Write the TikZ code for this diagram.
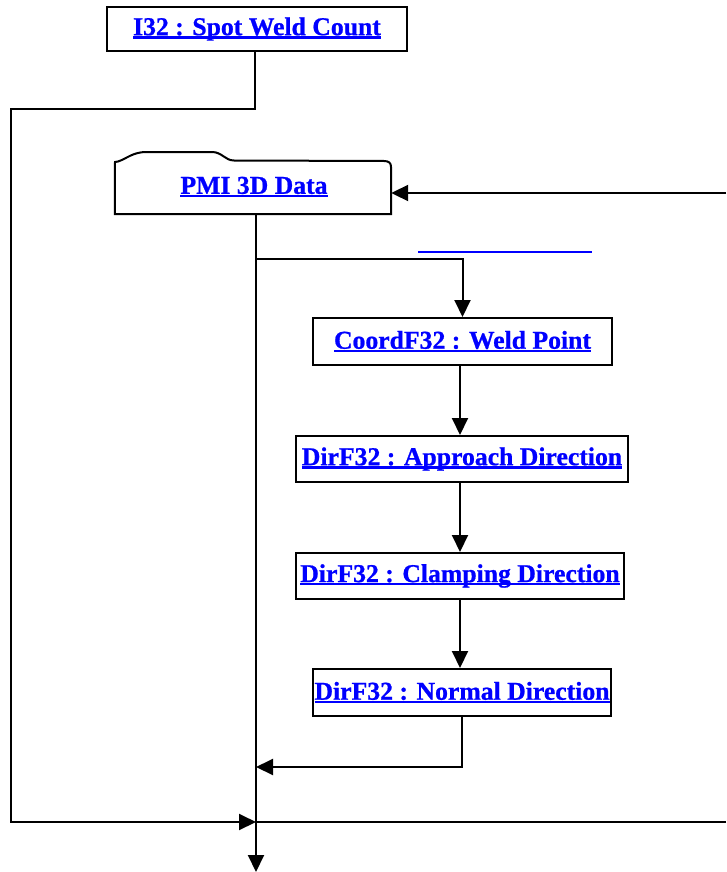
\documentclass[tikz,border=0pt]{standalone}
\usepackage{fontspec}
\setmainfont{Liberation Serif}[BoldFeatures={FakeBold=0.8}]
\usetikzlibrary{arrows.meta}
\definecolor{linkblue}{RGB}{0,0,255}
\newcommand{\lnk}[1]{\raisebox{-3.5pt}{\setbox0\hbox{#1}\rlap{\rule[-3.4pt]{\wd0}{2.2pt}}\box0}}
\tikzset{
  x=1pt,y=-1pt,
  ln/.style={line width=2pt,black},
  arr/.style={ln,-{Triangle[length=17pt,width=16pt]}},
  boxn/.style={draw,line width=2pt,fill=white,inner sep=0pt,font=\fontsize{25.7}{30}\selectfont\bfseries,text=linkblue},
  plainn/.style={inner sep=0pt,font=\fontsize{25.7}{30}\selectfont\bfseries,text=linkblue}
}
\begin{document}
\begin{tikzpicture}
\useasboundingbox[fill=white] (0,0) rectangle (726,872);
% nodes
\node[boxn,minimum width=300pt,minimum height=44pt] (i32) at (257,29) {\lnk{I32 : Spot Weld Count}};
\node[plainn,minimum width=276pt,minimum height=53pt] (pmi) at (253,187.5) {};
\draw[line width=2pt,fill=white] (pmi.south west) -- (115,162) -- (118,161.5)
  .. controls (126,159) and (133,152) .. (146,152) -- (212,152)
  .. controls (222,152) and (225,160.5) .. (234,160.5) -- (384,161)
  .. controls (389,161) and (391,163) .. (391,167) -- (pmi.south east) -- cycle;
\node[plainn] at (254,187) {\lnk{PMI 3D Data}};
\node[boxn,minimum width=299pt,minimum height=47pt] (cw) at (462.5,341.5) {\lnk{CoordF32 : Weld Point}};
\node[boxn,minimum width=332pt,minimum height=46pt] (ad) at (462,459) {\lnk{DirF32 : Approach Direction}};
\node[boxn,minimum width=328pt,minimum height=46pt] (cd) at (460,576) {\lnk{DirF32 : Clamping Direction}};
\node[boxn,minimum width=298pt,minimum height=47pt] (nd) at (462,692.5) {\lnk{DirF32 : Normal Direction}};
% coordinates
\coordinate (col) at (460,0);
\coordinate (mx) at (256,0);
\coordinate (lc) at (11,109);
\coordinate (rin) at (726,193);
\coordinate (bot) at (256,872);
\coordinate (j1) at (256,259);
\coordinate (rb) at (726,822);
\coordinate (lb) at (11,822);
\coordinate (ja) at (256,767);
\coordinate (jb) at (256,822);
\coordinate (bl1) at (418,252);
\coordinate (bl2) at (592,252);
% connectors
\draw[arr] (i32.south -| 255,0) |- (lc) -- (lb) -- (jb);
\draw[arr] (rin) -- (rin -| pmi.east);
\draw[arr] (pmi.south -| mx) -- (bot);
\draw[arr] (j1) -| (cw.north);
\draw[arr] (cw.south -| col) -- (ad.north -| col);
\draw[arr] (ad.south -| col) -- (cd.north -| col);
\draw[arr] (cd.south -| col) -- (nd.north -| col);
\draw[arr] (nd.south) |- (ja);
\draw[ln] (rb) -- (jb);
\draw[line width=2pt,linkblue] (bl1) -- (bl2);
\end{tikzpicture}
\end{document}
